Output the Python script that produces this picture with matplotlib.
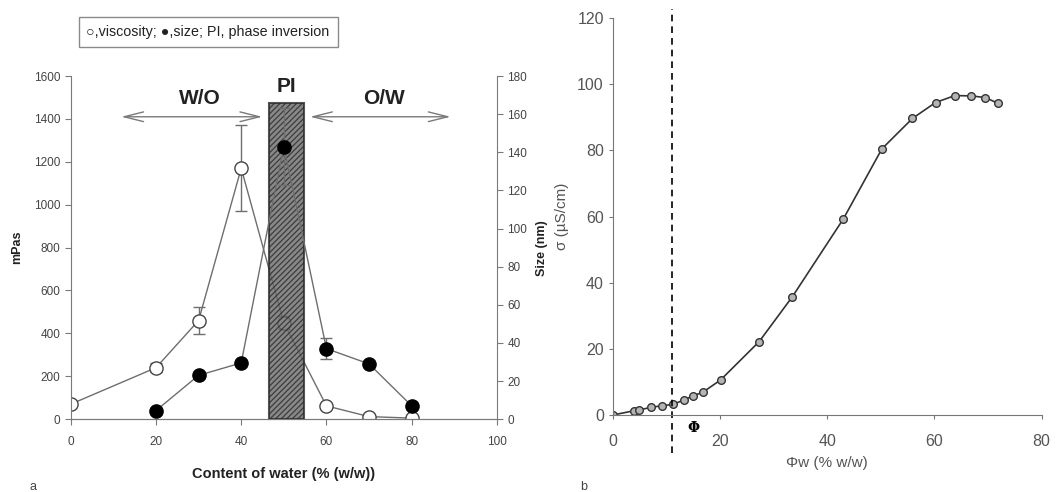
import matplotlib
matplotlib.use("Agg")
import matplotlib.pyplot as plt

# ===========================
# DATA
# ===========================

# Panel a: viscosity (mPas) and droplet size (nm) vs water content
water_content = [0, 20, 30, 40, 50, 60, 70, 80]
viscosity = [70, 240, 460, 1170, 450, 62, 12, 5]
viscosity_err = [0, 20, 65, 200, 30, 0, 0, 0]

size_water = [20, 30, 40, 50, 60, 70, 80]
size_nm = [4.5, 23, 29.5, 143, 37, 29, 7]
size_err = [0, 0, 0, 20, 5.5, 0, 0]

pi_start, pi_end, pi_top = 46.5, 54.8, 1475
wo_range = (11.2, 45.6)
ow_range = (55.5, 89.8)
arrow_level = 1410

# Panel b: conductivity vs water fraction
phi_w = [0, 4.0, 4.8, 7.1, 9.1, 11.2, 13.2, 15.0, 16.8, 20.1, 27.3, 33.5,
         43.0, 50.2, 55.9, 60.2, 63.8, 66.9, 69.5, 71.8]
sigma = [0, 1.3, 1.5, 2.3, 2.8, 3.2, 4.5, 5.8, 6.9, 10.6, 22.2, 35.8,
         59.3, 80.5, 89.7, 94.5, 96.6, 96.5, 96.0, 94.3]
phi_crit = 11

# ===========================
# FIGURE
# ===========================

plt.rcParams['font.family'] = ['Liberation Sans', 'DejaVu Sans']
plt.rcParams['hatch.color'] = '#b8b8b8'
plt.rcParams['hatch.linewidth'] = 0.9

fig = plt.figure(figsize=(10.64, 4.92), dpi=100)

# ---- panel a ----
ax = fig.add_axes([0.0665, 0.148, 0.4005, 0.6975])
ax2 = ax.twinx()

line_grey = '#6e6e6e'
ax.errorbar(water_content, viscosity, yerr=viscosity_err, color=line_grey, lw=1,
            marker='o', ms=9.5, mfc='white', mec='#444444', mew=1,
            capsize=4, ecolor=line_grey, elinewidth=1, zorder=2)

ax.bar((pi_start + pi_end) / 2, pi_top, width=pi_end - pi_start,
       facecolor='#6a6a6a', edgecolor='#2a2a2a', hatch='//////', lw=1.5,
       alpha=0.8, zorder=3)

ax.annotate('', xy=(wo_range[0], arrow_level), xytext=(wo_range[1], arrow_level),
            arrowprops=dict(arrowstyle='<->,head_length=1.4,head_width=0.35',
                            color='#7a7a7a', lw=1))
ax.annotate('', xy=(ow_range[0], arrow_level), xytext=(ow_range[1], arrow_level),
            arrowprops=dict(arrowstyle='<->,head_length=1.4,head_width=0.35',
                            color='#7a7a7a', lw=1))
ax.text(30.4, 1495, 'W/O', ha='center', va='center', fontsize=15, fontweight='bold', color='#222222')
ax.text(50.7, 1550, 'PI', ha='center', va='center', fontsize=15, fontweight='bold', color='#222222')
ax.text(73.4, 1495, 'O/W', ha='center', va='center', fontsize=15, fontweight='bold', color='#222222')

# size series, error bars drawn on the twin axis
ax2.plot(size_water, size_nm, color=line_grey, lw=1, zorder=2)
ax2.errorbar(size_water, size_nm, yerr=size_err, fmt='o', color='black', ms=9.5,
             mec='black', capsize=4, ecolor=line_grey, elinewidth=1, zorder=3)

ax.set_xlim(0, 100)
ax.set_ylim(0, 1600)
ax2.set_ylim(0, 180)
ax.set_xticks(range(0, 101, 20))
ax.set_yticks(range(0, 1601, 200))
ax2.set_yticks(range(0, 181, 20))

for a in (ax, ax2):
    a.spines['top'].set_visible(False)
    for s in a.spines.values():
        s.set_color('#7a7a7a')
    a.tick_params(colors='#7a7a7a', labelcolor='#444444', labelsize=8.5, length=4)
ax2.spines['left'].set_visible(False)
ax.spines['right'].set_visible(False)
ax.tick_params(axis='x', pad=8)

ax.set_xlabel('Content of water (% (w/w))', fontsize=10.5, fontweight='bold', color='#222222', labelpad=14)
ax.set_ylabel('mPas', fontsize=9, fontweight='bold', color='#222222', labelpad=8)

fig.text(0.509, 0.496, 'Size (nm)', rotation=90, ha='center', va='center',
         fontsize=9, fontweight='bold', color='#222222')

fig.text(0.1955, 0.935, '○,viscosity; ●,size; PI, phase inversion', ha='center', va='center',
         fontsize=10.3, color='#222222', family=['Liberation Sans', 'DejaVu Sans'],
         bbox=dict(boxstyle='square,pad=0.55', fc='white', ec='#8a8a8a', lw=1))

fig.text(0.028, 0.005, 'a', fontsize=9, color='#444444')

# ---- panel b ----
bx = fig.add_axes([0.576, 0.1565, 0.403, 0.8065])
bx.plot(phi_w, sigma, color='#333333', lw=1.2, marker='o', ms=5.5,
        mfc='#b4b4b4', mec='#333333', mew=1)
bx.axvline(phi_crit, ymin=-0.095, ymax=1.022, color='black', lw=1.2,
           ls=(0, (4, 3)), clip_on=False)
bx.text(15.0, -3.8, 'Φ', ha='center', va='center', fontsize=10, fontweight='bold',
        family='DejaVu Serif')

bx.set_xlim(0, 80)
bx.set_ylim(0, 120)
bx.set_xticks(range(0, 81, 20))
bx.set_yticks(range(0, 121, 20))
bx.spines['top'].set_visible(False)
bx.spines['right'].set_visible(False)
for s in ('left', 'bottom'):
    bx.spines[s].set_color('#777777')
bx.tick_params(colors='#777777', labelcolor='#555555', labelsize=11.5, length=3)
bx.tick_params(axis='x', pad=11)
bx.set_xlabel('Φw (% w/w)', fontsize=11, color='#555555', labelpad=5)
bx.set_ylabel('σ (µS/cm)', fontsize=11, color='#555555', labelpad=6)

fig.text(0.545, 0.005, 'b', fontsize=9, color='#444444')

fig.savefig('out.png', dpi=100)
